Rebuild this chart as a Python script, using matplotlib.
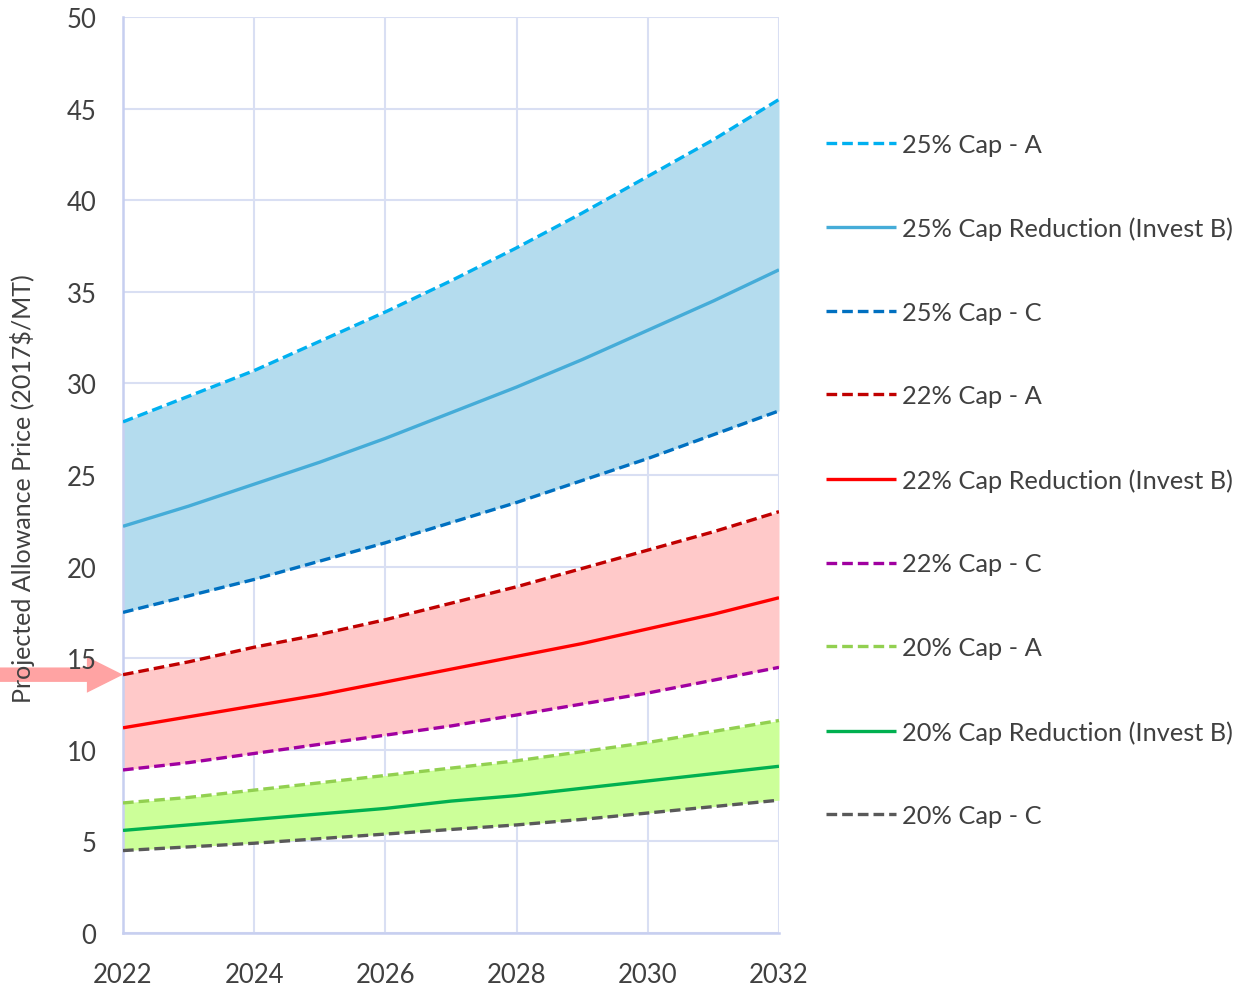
import matplotlib
matplotlib.use("Agg")
import matplotlib.pyplot as plt
from matplotlib.patches import FancyArrowPatch
from matplotlib.transforms import blended_transform_factory

years = [2022, 2023, 2024, 2025, 2026, 2027, 2028, 2029, 2030, 2031, 2032]

cap25_a = [27.9, 29.3, 30.7, 32.3, 33.9, 35.6, 37.4, 39.3, 41.3, 43.3, 45.5]
cap25_b = [22.2, 23.3, 24.5, 25.7, 27.0, 28.4, 29.8, 31.3, 32.9, 34.5, 36.2]
cap25_c = [17.5, 18.4, 19.3, 20.3, 21.3, 22.4, 23.5, 24.7, 25.9, 27.2, 28.5]
cap22_a = [14.1, 14.8, 15.6, 16.3, 17.1, 18.0, 18.9, 19.9, 20.9, 21.9, 23.0]
cap22_b = [11.2, 11.8, 12.4, 13.0, 13.7, 14.4, 15.1, 15.8, 16.6, 17.4, 18.3]
cap22_c = [8.9, 9.3, 9.8, 10.3, 10.8, 11.3, 11.9, 12.5, 13.1, 13.8, 14.5]
cap20_a = [7.1, 7.4, 7.8, 8.2, 8.6, 9.0, 9.4, 9.9, 10.4, 11.0, 11.6]
cap20_b = [5.6, 5.9, 6.2, 6.5, 6.8, 7.2, 7.5, 7.9, 8.3, 8.7, 9.1]
cap20_c = [4.5, 4.7, 4.9, 5.15, 5.4, 5.65, 5.9, 6.2, 6.55, 6.9, 7.25]

labels = ["25% Cap - A", "25% Cap Reduction (Invest B)", "25% Cap - C",
          "22% Cap - A", "22% Cap Reduction (Invest B)", "22% Cap - C",
          "20% Cap - A", "20% Cap Reduction (Invest B)", "20% Cap - C"]
x_ticks = [2022, 2024, 2026, 2028, 2030, 2032]
y_ticks = [0, 5, 10, 15, 20, 25, 30, 35, 40, 45, 50]
arrow_value = 14.1

plt.rcParams['font.family'] = ['Lato', 'DejaVu Sans']
txt_color = '#404040'

fig = plt.figure(figsize=(12.47, 9.87), dpi=100)
ax = fig.add_axes([123/1247, 53/987, 656/1247, 916/987])

# bands
ax.fill_between(years, cap25_c, cap25_a, color='#B4DCEE', lw=0, zorder=1)
ax.fill_between(years, cap22_c, cap22_a, color='#FFC9C9', lw=0, zorder=1)
ax.fill_between(years, cap20_c, cap20_a, color='#CCFF99', lw=0, zorder=1)

dash = (0, (3.2, 1.5))
lw = 2.4
series = [cap25_a, cap25_b, cap25_c, cap22_a, cap22_b, cap22_c, cap20_a, cap20_b, cap20_c]
colors = ['#00B0F0', '#45ACD8', '#0070C0', '#C00000', '#FF0000', '#A000A0',
          '#92D050', '#00B050', '#595959']
styles = [dash, '-', dash, dash, '-', dash, dash, '-', dash]
handles = []
for s, c, st, lab in zip(series, colors, styles, labels):
    h, = ax.plot(years, s, color=c, lw=lw, linestyle=st, label=lab, zorder=3,
                 solid_capstyle='butt', dash_capstyle='butt')
    handles.append(h)

ax.set_xlim(2022, 2032)
ax.set_ylim(0, 50)
ax.set_xticks(x_ticks)
ax.set_yticks(y_ticks)
ax.set_axisbelow(True)
ax.grid(True, color='#D9DFF3', lw=1.5)
for side in ['top', 'right']:
    ax.spines[side].set_visible(False)
for side in ['left', 'bottom']:
    ax.spines[side].set_color('#C7CFF0')
    ax.spines[side].set_linewidth(1.8)
ax.tick_params(axis='both', length=0, labelsize=18.5, labelcolor=txt_color)
ax.tick_params(axis='y', pad=19)
ax.tick_params(axis='x', pad=21)
ax.set_ylabel('Projected Allowance Price (2017$/MT)', fontsize=18, color=txt_color)
ax.yaxis.set_label_coords(-0.134, 0.486)

leg = ax.legend(handles=handles, loc='upper left', bbox_to_anchor=(1.056, 0.885),
                frameon=False, fontsize=18.3, labelcolor=txt_color,
                handlelength=2.75, handletextpad=0.24, labelspacing=2.39,
                borderaxespad=0)

# arrow pointing to the 22% Cap - A starting value
trans = blended_transform_factory(fig.transFigure, ax.transData)
arr = FancyArrowPatch((0.0, arrow_value), (123/1247, arrow_value), transform=trans,
                      arrowstyle='simple,head_length=1.0,head_width=1.0,tail_width=0.4',
                      mutation_scale=26, color='#FFA3A3', lw=0,
                      shrinkA=0, shrinkB=0, zorder=-1)
fig.add_artist(arr)

fig.savefig('out.png', dpi=100)
